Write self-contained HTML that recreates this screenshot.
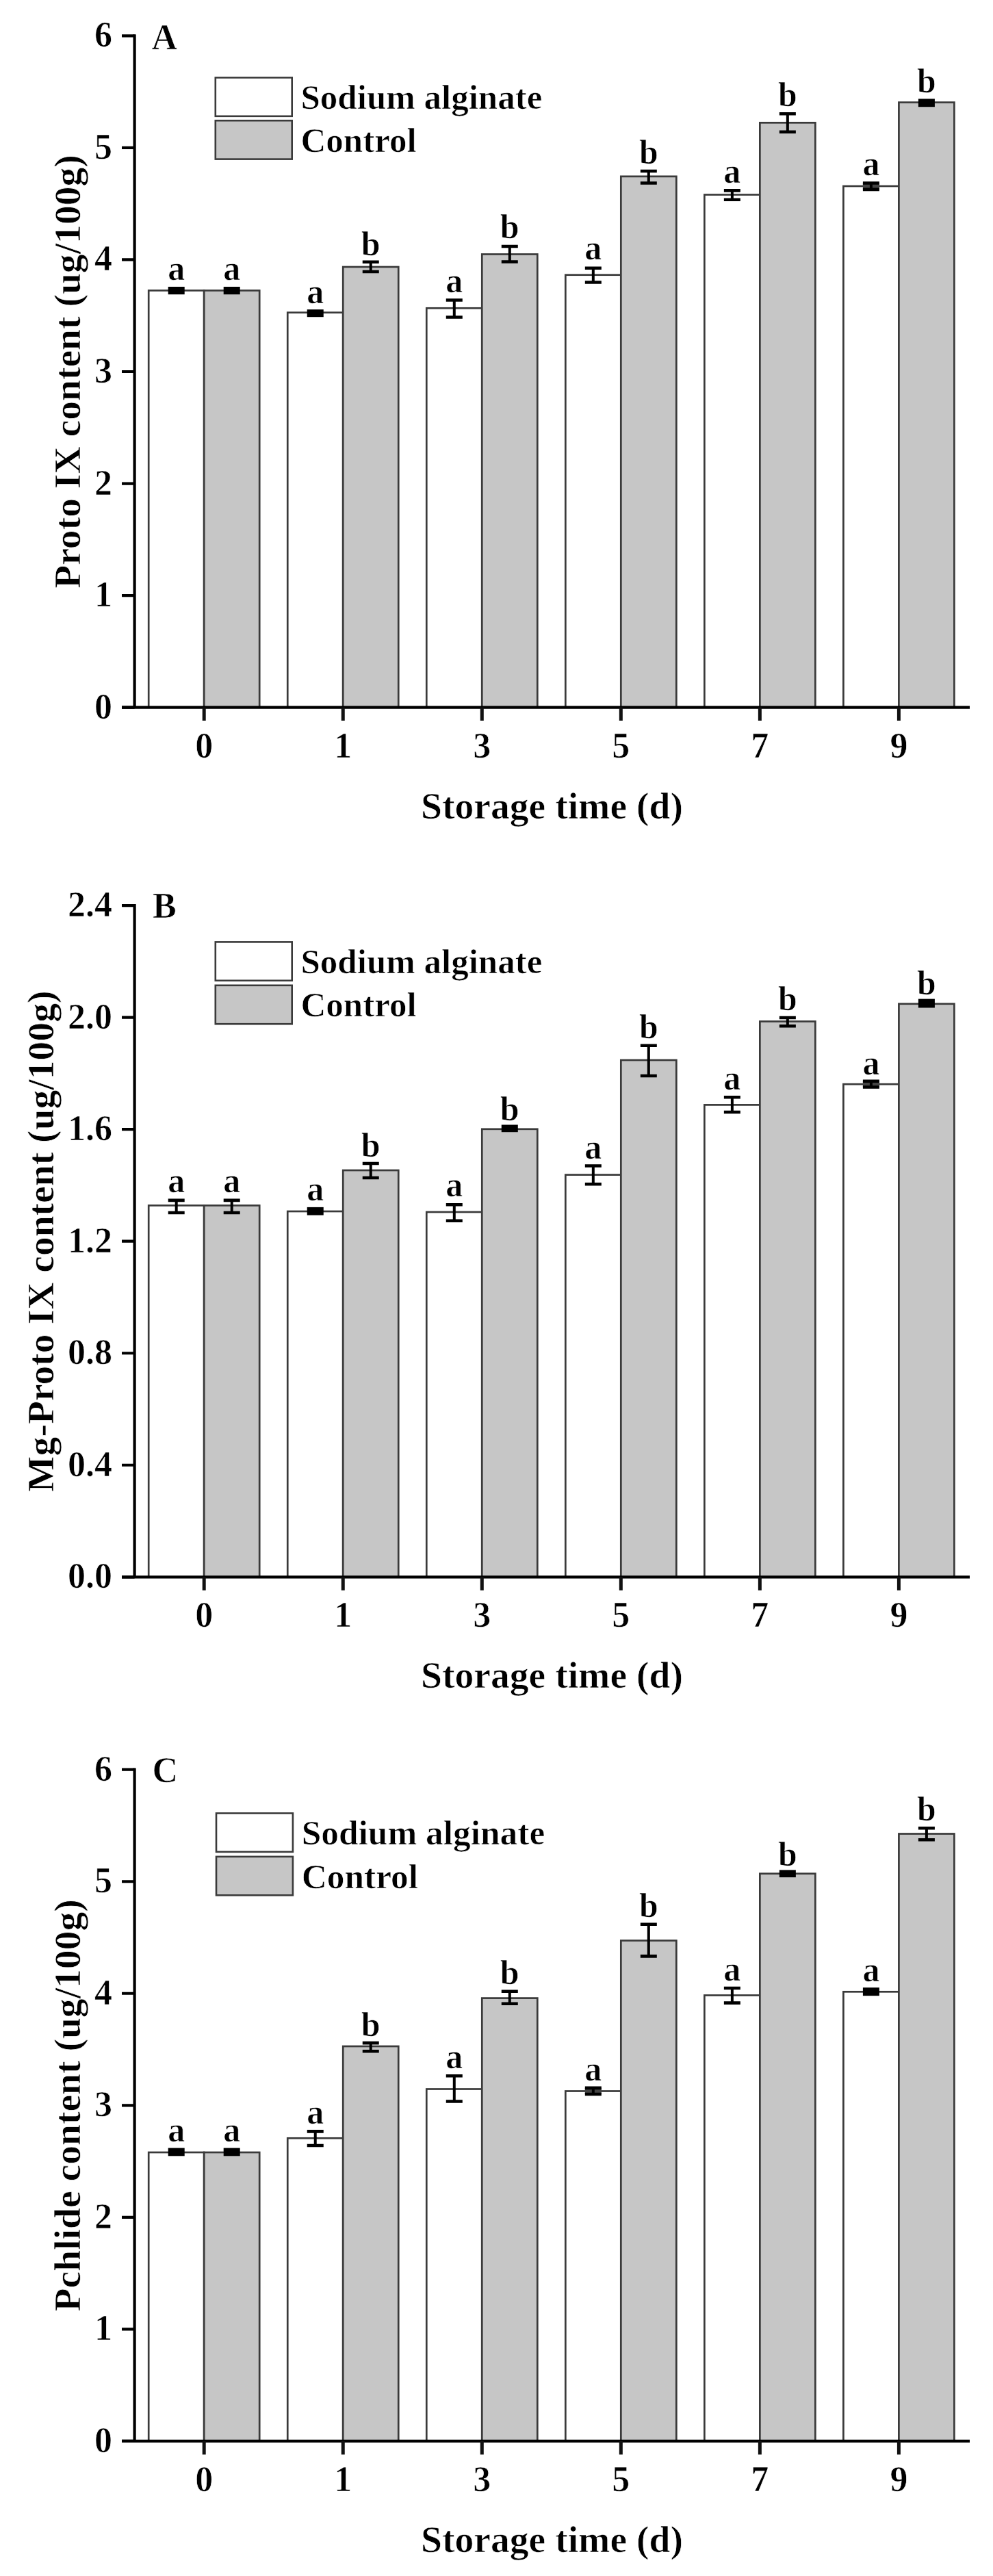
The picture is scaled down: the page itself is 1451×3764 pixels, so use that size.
<!DOCTYPE html>
<html><head><meta charset="utf-8"><title>Chart</title>
<style>html,body{margin:0;padding:0;background:#fff;}body{width:1451px;height:3764px;overflow:hidden;}svg{display:block;}</style>
</head><body>
<svg width="1451" height="3764" viewBox="0 0 1451 3764">
<rect x="0" y="0" width="1451" height="3764" fill="#ffffff"/>
<style>text{stroke:#fff;stroke-width:0.7px;paint-order:normal;}</style>
<g font-family="'Liberation Serif', 'Times New Roman', serif" font-weight="bold" fill="#000">
<rect x="217.2" y="424.5" width="81" height="609.1" fill="#ffffff" stroke="#3a3a3a" stroke-width="2.7"/>
<rect x="298.2" y="424.5" width="81" height="609.1" fill="#c6c6c6" stroke="#3a3a3a" stroke-width="2.7"/>
<rect x="245.7" y="419" width="24" height="11.2" fill="#000"/>
<text x="257.7" y="409.1" font-size="50" text-anchor="middle">a</text>
<rect x="326.7" y="419" width="24" height="11.2" fill="#000"/>
<text x="338.7" y="409.1" font-size="50" text-anchor="middle">a</text>
<rect x="420.24" y="456.7" width="81" height="576.9" fill="#ffffff" stroke="#3a3a3a" stroke-width="2.7"/>
<rect x="501.24" y="390" width="81" height="643.6" fill="#c6c6c6" stroke="#3a3a3a" stroke-width="2.7"/>
<rect x="448.74" y="452.2" width="24" height="11" fill="#000"/>
<text x="460.74" y="442.7" font-size="50" text-anchor="middle">a</text>
<path d="M541.74 382.7V397" stroke="#000" stroke-width="4.0" fill="none"/>
<path d="M529.74 382.7H553.74M529.74 397H553.74" stroke="#000" stroke-width="4.6" fill="none"/>
<text x="541.74" y="372.8" font-size="50" text-anchor="middle">b</text>
<rect x="623.28" y="450.3" width="81" height="583.3" fill="#ffffff" stroke="#3a3a3a" stroke-width="2.7"/>
<rect x="704.28" y="371.5" width="81" height="662.1" fill="#c6c6c6" stroke="#3a3a3a" stroke-width="2.7"/>
<path d="M663.78 438.5V463.5" stroke="#000" stroke-width="4.0" fill="none"/>
<path d="M651.78 438.5H675.78M651.78 463.5H675.78" stroke="#000" stroke-width="4.6" fill="none"/>
<text x="663.78" y="426.7" font-size="50" text-anchor="middle">a</text>
<path d="M744.78 360V382.5" stroke="#000" stroke-width="4.0" fill="none"/>
<path d="M732.78 360H756.78M732.78 382.5H756.78" stroke="#000" stroke-width="4.6" fill="none"/>
<text x="744.78" y="348.4" font-size="50" text-anchor="middle">b</text>
<rect x="826.32" y="401.7" width="81" height="631.9" fill="#ffffff" stroke="#3a3a3a" stroke-width="2.7"/>
<rect x="907.32" y="257.8" width="81" height="775.8" fill="#c6c6c6" stroke="#3a3a3a" stroke-width="2.7"/>
<path d="M866.82 391.7V412.5" stroke="#000" stroke-width="4.0" fill="none"/>
<path d="M854.82 391.7H878.82M854.82 412.5H878.82" stroke="#000" stroke-width="4.6" fill="none"/>
<text x="866.82" y="379.1" font-size="50" text-anchor="middle">a</text>
<path d="M947.82 250V267.5" stroke="#000" stroke-width="4.0" fill="none"/>
<path d="M935.82 250H959.82M935.82 267.5H959.82" stroke="#000" stroke-width="4.6" fill="none"/>
<text x="947.82" y="238.7" font-size="50" text-anchor="middle">b</text>
<rect x="1029.36" y="284.5" width="81" height="749.1" fill="#ffffff" stroke="#3a3a3a" stroke-width="2.7"/>
<rect x="1110.36" y="179.3" width="81" height="854.3" fill="#c6c6c6" stroke="#3a3a3a" stroke-width="2.7"/>
<path d="M1069.86 278.4V291.8" stroke="#000" stroke-width="4.0" fill="none"/>
<path d="M1057.86 278.4H1081.86M1057.86 291.8H1081.86" stroke="#000" stroke-width="4.6" fill="none"/>
<text x="1069.86" y="267.4" font-size="50" text-anchor="middle">a</text>
<path d="M1150.86 166.3V192.8" stroke="#000" stroke-width="4.0" fill="none"/>
<path d="M1138.86 166.3H1162.86M1138.86 192.8H1162.86" stroke="#000" stroke-width="4.6" fill="none"/>
<text x="1150.86" y="154.8" font-size="50" text-anchor="middle">b</text>
<rect x="1232.4" y="272" width="81" height="761.6" fill="#ffffff" stroke="#3a3a3a" stroke-width="2.7"/>
<rect x="1313.4" y="149.6" width="81" height="884" fill="#c6c6c6" stroke="#3a3a3a" stroke-width="2.7"/>
<rect x="1260.9" y="267.5" width="24" height="9.4" fill="#444"/>
<path d="M1272.9 267.5V276.9" stroke="#000" stroke-width="4.0" fill="none"/>
<path d="M1260.9 267.5H1284.9M1260.9 276.9H1284.9" stroke="#000" stroke-width="4.6" fill="none"/>
<text x="1272.9" y="255.5" font-size="50" text-anchor="middle">a</text>
<rect x="1341.9" y="144.4" width="24" height="11.8" fill="#000"/>
<text x="1353.9" y="135.2" font-size="50" text-anchor="middle">b</text>
<path d="M196.6 50.3V1033.6M178 1033.6H1417" stroke="#000" stroke-width="4.2" fill="none"/>
<text x="164" y="1049.6" font-size="52" text-anchor="end">0</text>
<text x="164" y="886.07" font-size="52" text-anchor="end">1</text>
<text x="164" y="722.53" font-size="52" text-anchor="end">2</text>
<text x="164" y="559" font-size="52" text-anchor="end">3</text>
<text x="164" y="395.47" font-size="52" text-anchor="end">4</text>
<text x="164" y="231.93" font-size="52" text-anchor="end">5</text>
<text x="164" y="68.4" font-size="52" text-anchor="end">6</text>
<text x="298.2" y="1106.5" font-size="52" text-anchor="middle">0</text>
<text x="501.24" y="1106.5" font-size="52" text-anchor="middle">1</text>
<text x="704.28" y="1106.5" font-size="52" text-anchor="middle">3</text>
<text x="907.32" y="1106.5" font-size="52" text-anchor="middle">5</text>
<text x="1110.36" y="1106.5" font-size="52" text-anchor="middle">7</text>
<text x="1313.4" y="1106.5" font-size="52" text-anchor="middle">9</text>
<path d="M178 1033.6H196.6M178 870.07H196.6M178 706.53H196.6M178 543H196.6M178 379.47H196.6M178 215.93H196.6M178 52.4H196.6" stroke="#000" stroke-width="4.2" fill="none"/>
<path d="M298.2 1033.6V1053.1M501.24 1033.6V1053.1M704.28 1033.6V1053.1M907.32 1033.6V1053.1M1110.36 1033.6V1053.1M1313.4 1033.6V1053.1" stroke="#111" stroke-width="5.0" fill="none"/>
<text x="806.5" y="1195.5" font-size="55.6" text-anchor="middle">Storage time (d)</text>
<text transform="translate(117.4 543) rotate(-90)" x="0" y="0" font-size="55.6" text-anchor="middle">Proto IX content (ug/100g)</text>
<text x="221.5" y="72" font-size="52">A</text>
<rect x="314.8" y="113.4" width="111.9" height="56.4" fill="#ffffff" stroke="#3a3a3a" stroke-width="2.6"/>
<rect x="314.8" y="176.2" width="111.9" height="56.4" fill="#c6c6c6" stroke="#3a3a3a" stroke-width="2.6"/>
<text x="439.5" y="158.7" font-size="51">Sodium alginate</text>
<text x="439.5" y="222" font-size="51">Control</text>
<rect x="217.2" y="1761.4" width="81" height="542.9" fill="#ffffff" stroke="#3a3a3a" stroke-width="2.7"/>
<rect x="298.2" y="1761.4" width="81" height="542.9" fill="#c6c6c6" stroke="#3a3a3a" stroke-width="2.7"/>
<path d="M257.7 1753.9V1772" stroke="#000" stroke-width="4.0" fill="none"/>
<path d="M245.7 1753.9H269.7M245.7 1772H269.7" stroke="#000" stroke-width="4.6" fill="none"/>
<text x="257.7" y="1742.1" font-size="50" text-anchor="middle">a</text>
<path d="M338.7 1753.9V1772" stroke="#000" stroke-width="4.0" fill="none"/>
<path d="M326.7 1753.9H350.7M326.7 1772H350.7" stroke="#000" stroke-width="4.6" fill="none"/>
<text x="338.7" y="1742.1" font-size="50" text-anchor="middle">a</text>
<rect x="420.24" y="1770" width="81" height="534.3" fill="#ffffff" stroke="#3a3a3a" stroke-width="2.7"/>
<rect x="501.24" y="1710" width="81" height="594.3" fill="#c6c6c6" stroke="#3a3a3a" stroke-width="2.7"/>
<rect x="448.74" y="1763.9" width="24" height="11.7" fill="#000"/>
<text x="460.74" y="1754.1" font-size="50" text-anchor="middle">a</text>
<path d="M541.74 1700V1721" stroke="#000" stroke-width="4.0" fill="none"/>
<path d="M529.74 1700H553.74M529.74 1721H553.74" stroke="#000" stroke-width="4.6" fill="none"/>
<text x="541.74" y="1689.6" font-size="50" text-anchor="middle">b</text>
<rect x="623.28" y="1771" width="81" height="533.3" fill="#ffffff" stroke="#3a3a3a" stroke-width="2.7"/>
<rect x="704.28" y="1649.8" width="81" height="654.5" fill="#c6c6c6" stroke="#3a3a3a" stroke-width="2.7"/>
<path d="M663.78 1760.2V1783.8" stroke="#000" stroke-width="4.0" fill="none"/>
<path d="M651.78 1760.2H675.78M651.78 1783.8H675.78" stroke="#000" stroke-width="4.6" fill="none"/>
<text x="663.78" y="1748" font-size="50" text-anchor="middle">a</text>
<rect x="732.78" y="1643.5" width="24" height="10.7" fill="#000"/>
<text x="744.78" y="1636.7" font-size="50" text-anchor="middle">b</text>
<rect x="826.32" y="1716.6" width="81" height="587.7" fill="#ffffff" stroke="#3a3a3a" stroke-width="2.7"/>
<rect x="907.32" y="1549" width="81" height="755.3" fill="#c6c6c6" stroke="#3a3a3a" stroke-width="2.7"/>
<path d="M866.82 1703.5V1730.2" stroke="#000" stroke-width="4.0" fill="none"/>
<path d="M854.82 1703.5H878.82M854.82 1730.2H878.82" stroke="#000" stroke-width="4.6" fill="none"/>
<text x="866.82" y="1692.9" font-size="50" text-anchor="middle">a</text>
<path d="M947.82 1527.7V1572" stroke="#000" stroke-width="4.0" fill="none"/>
<path d="M935.82 1527.7H959.82M935.82 1572H959.82" stroke="#000" stroke-width="4.6" fill="none"/>
<text x="947.82" y="1516.7" font-size="50" text-anchor="middle">b</text>
<rect x="1029.36" y="1614.4" width="81" height="689.9" fill="#ffffff" stroke="#3a3a3a" stroke-width="2.7"/>
<rect x="1110.36" y="1492.5" width="81" height="811.8" fill="#c6c6c6" stroke="#3a3a3a" stroke-width="2.7"/>
<path d="M1069.86 1603.3V1625" stroke="#000" stroke-width="4.0" fill="none"/>
<path d="M1057.86 1603.3H1081.86M1057.86 1625H1081.86" stroke="#000" stroke-width="4.6" fill="none"/>
<text x="1069.86" y="1591.6" font-size="50" text-anchor="middle">a</text>
<path d="M1150.86 1487V1499.3" stroke="#000" stroke-width="4.0" fill="none"/>
<path d="M1138.86 1487H1162.86M1138.86 1499.3H1162.86" stroke="#000" stroke-width="4.6" fill="none"/>
<text x="1150.86" y="1476.2" font-size="50" text-anchor="middle">b</text>
<rect x="1232.4" y="1584.2" width="81" height="720.1" fill="#ffffff" stroke="#3a3a3a" stroke-width="2.7"/>
<rect x="1313.4" y="1466.8" width="81" height="837.5" fill="#c6c6c6" stroke="#3a3a3a" stroke-width="2.7"/>
<rect x="1260.9" y="1579.7" width="24" height="8.8" fill="#444"/>
<path d="M1272.9 1579.7V1588.5" stroke="#000" stroke-width="4.0" fill="none"/>
<path d="M1260.9 1579.7H1284.9M1260.9 1588.5H1284.9" stroke="#000" stroke-width="4.6" fill="none"/>
<text x="1272.9" y="1570" font-size="50" text-anchor="middle">a</text>
<rect x="1341.9" y="1459.6" width="24" height="12.9" fill="#000"/>
<text x="1353.9" y="1452.6" font-size="50" text-anchor="middle">b</text>
<path d="M196.6 1321V2304.3M178 2304.3H1417" stroke="#000" stroke-width="4.2" fill="none"/>
<text x="164" y="2320.3" font-size="52" text-anchor="end">0.0</text>
<text x="164" y="2156.77" font-size="52" text-anchor="end">0.4</text>
<text x="164" y="1993.23" font-size="52" text-anchor="end">0.8</text>
<text x="164" y="1829.7" font-size="52" text-anchor="end">1.2</text>
<text x="164" y="1666.17" font-size="52" text-anchor="end">1.6</text>
<text x="164" y="1502.63" font-size="52" text-anchor="end">2.0</text>
<text x="164" y="1339.1" font-size="52" text-anchor="end">2.4</text>
<text x="298.2" y="2377.2" font-size="52" text-anchor="middle">0</text>
<text x="501.24" y="2377.2" font-size="52" text-anchor="middle">1</text>
<text x="704.28" y="2377.2" font-size="52" text-anchor="middle">3</text>
<text x="907.32" y="2377.2" font-size="52" text-anchor="middle">5</text>
<text x="1110.36" y="2377.2" font-size="52" text-anchor="middle">7</text>
<text x="1313.4" y="2377.2" font-size="52" text-anchor="middle">9</text>
<path d="M178 2304.3H196.6M178 2140.77H196.6M178 1977.23H196.6M178 1813.7H196.6M178 1650.17H196.6M178 1486.63H196.6M178 1323.1H196.6" stroke="#000" stroke-width="4.2" fill="none"/>
<path d="M298.2 2304.3V2323.8M501.24 2304.3V2323.8M704.28 2304.3V2323.8M907.32 2304.3V2323.8M1110.36 2304.3V2323.8M1313.4 2304.3V2323.8" stroke="#111" stroke-width="5.0" fill="none"/>
<text x="806.5" y="2466.2" font-size="55.6" text-anchor="middle">Storage time (d)</text>
<text transform="translate(78.4 1813.7) rotate(-90)" x="0" y="0" font-size="55.6" text-anchor="middle">Mg-Proto IX content (ug/100g)</text>
<text x="223" y="1341.3" font-size="52">B</text>
<rect x="314.8" y="1376.4" width="111.9" height="56.4" fill="#ffffff" stroke="#3a3a3a" stroke-width="2.6"/>
<rect x="314.8" y="1439.8" width="111.9" height="56.4" fill="#c6c6c6" stroke="#3a3a3a" stroke-width="2.6"/>
<text x="439.5" y="1421.7" font-size="51">Sodium alginate</text>
<text x="439.5" y="1485.2" font-size="51">Control</text>
<rect x="217.2" y="3145" width="81" height="421.9" fill="#ffffff" stroke="#3a3a3a" stroke-width="2.7"/>
<rect x="298.2" y="3145" width="81" height="421.9" fill="#c6c6c6" stroke="#3a3a3a" stroke-width="2.7"/>
<rect x="245.7" y="3138.6" width="24" height="11.7" fill="#000"/>
<text x="257.7" y="3129.4" font-size="50" text-anchor="middle">a</text>
<rect x="326.7" y="3138.6" width="24" height="11.7" fill="#000"/>
<text x="338.7" y="3129.4" font-size="50" text-anchor="middle">a</text>
<rect x="420.24" y="3124.3" width="81" height="442.6" fill="#ffffff" stroke="#3a3a3a" stroke-width="2.7"/>
<rect x="501.24" y="2990" width="81" height="576.9" fill="#c6c6c6" stroke="#3a3a3a" stroke-width="2.7"/>
<path d="M460.74 3114.4V3135" stroke="#000" stroke-width="4.0" fill="none"/>
<path d="M448.74 3114.4H472.74M448.74 3135H472.74" stroke="#000" stroke-width="4.6" fill="none"/>
<text x="460.74" y="3103.4" font-size="50" text-anchor="middle">a</text>
<path d="M541.74 2985.1V2997.2" stroke="#000" stroke-width="4.0" fill="none"/>
<path d="M529.74 2985.1H553.74M529.74 2997.2H553.74" stroke="#000" stroke-width="4.6" fill="none"/>
<text x="541.74" y="2974.6" font-size="50" text-anchor="middle">b</text>
<rect x="623.28" y="3052.5" width="81" height="514.4" fill="#ffffff" stroke="#3a3a3a" stroke-width="2.7"/>
<rect x="704.28" y="2919.6" width="81" height="647.3" fill="#c6c6c6" stroke="#3a3a3a" stroke-width="2.7"/>
<path d="M663.78 3033.2V3070.5" stroke="#000" stroke-width="4.0" fill="none"/>
<path d="M651.78 3033.2H675.78M651.78 3070.5H675.78" stroke="#000" stroke-width="4.6" fill="none"/>
<text x="663.78" y="3021.5" font-size="50" text-anchor="middle">a</text>
<path d="M744.78 2909.8V2927.7" stroke="#000" stroke-width="4.0" fill="none"/>
<path d="M732.78 2909.8H756.78M732.78 2927.7H756.78" stroke="#000" stroke-width="4.6" fill="none"/>
<text x="744.78" y="2898.7" font-size="50" text-anchor="middle">b</text>
<rect x="826.32" y="3055.5" width="81" height="511.4" fill="#ffffff" stroke="#3a3a3a" stroke-width="2.7"/>
<rect x="907.32" y="2835.5" width="81" height="731.4" fill="#c6c6c6" stroke="#3a3a3a" stroke-width="2.7"/>
<rect x="854.82" y="3050.9" width="24" height="9.1" fill="#444"/>
<path d="M866.82 3050.9V3060" stroke="#000" stroke-width="4.0" fill="none"/>
<path d="M854.82 3050.9H878.82M854.82 3060H878.82" stroke="#000" stroke-width="4.6" fill="none"/>
<text x="866.82" y="3039.8" font-size="50" text-anchor="middle">a</text>
<path d="M947.82 2811.8V2858.4" stroke="#000" stroke-width="4.0" fill="none"/>
<path d="M935.82 2811.8H959.82M935.82 2858.4H959.82" stroke="#000" stroke-width="4.6" fill="none"/>
<text x="947.82" y="2800.7" font-size="50" text-anchor="middle">b</text>
<rect x="1029.36" y="2915.5" width="81" height="651.4" fill="#ffffff" stroke="#3a3a3a" stroke-width="2.7"/>
<rect x="1110.36" y="2737.7" width="81" height="829.2" fill="#c6c6c6" stroke="#3a3a3a" stroke-width="2.7"/>
<path d="M1069.86 2905V2926.6" stroke="#000" stroke-width="4.0" fill="none"/>
<path d="M1057.86 2905H1081.86M1057.86 2926.6H1081.86" stroke="#000" stroke-width="4.6" fill="none"/>
<text x="1069.86" y="2894.4" font-size="50" text-anchor="middle">a</text>
<rect x="1138.86" y="2732.4" width="24" height="10.7" fill="#000"/>
<text x="1150.86" y="2725.6" font-size="50" text-anchor="middle">b</text>
<rect x="1232.4" y="2910.3" width="81" height="656.6" fill="#ffffff" stroke="#3a3a3a" stroke-width="2.7"/>
<rect x="1313.4" y="2679.5" width="81" height="887.4" fill="#c6c6c6" stroke="#3a3a3a" stroke-width="2.7"/>
<rect x="1260.9" y="2904.2" width="24" height="12" fill="#000"/>
<text x="1272.9" y="2895.2" font-size="50" text-anchor="middle">a</text>
<path d="M1353.9 2671.3V2688.3" stroke="#000" stroke-width="4.0" fill="none"/>
<path d="M1341.9 2671.3H1365.9M1341.9 2688.3H1365.9" stroke="#000" stroke-width="4.6" fill="none"/>
<text x="1353.9" y="2659.7" font-size="50" text-anchor="middle">b</text>
<path d="M196.6 2583.6V3566.9M178 3566.9H1417" stroke="#000" stroke-width="4.2" fill="none"/>
<text x="164" y="3582.9" font-size="52" text-anchor="end">0</text>
<text x="164" y="3419.37" font-size="52" text-anchor="end">1</text>
<text x="164" y="3255.83" font-size="52" text-anchor="end">2</text>
<text x="164" y="3092.3" font-size="52" text-anchor="end">3</text>
<text x="164" y="2928.77" font-size="52" text-anchor="end">4</text>
<text x="164" y="2765.23" font-size="52" text-anchor="end">5</text>
<text x="164" y="2601.7" font-size="52" text-anchor="end">6</text>
<text x="298.2" y="3639.8" font-size="52" text-anchor="middle">0</text>
<text x="501.24" y="3639.8" font-size="52" text-anchor="middle">1</text>
<text x="704.28" y="3639.8" font-size="52" text-anchor="middle">3</text>
<text x="907.32" y="3639.8" font-size="52" text-anchor="middle">5</text>
<text x="1110.36" y="3639.8" font-size="52" text-anchor="middle">7</text>
<text x="1313.4" y="3639.8" font-size="52" text-anchor="middle">9</text>
<path d="M178 3566.9H196.6M178 3403.37H196.6M178 3239.83H196.6M178 3076.3H196.6M178 2912.77H196.6M178 2749.23H196.6M178 2585.7H196.6" stroke="#000" stroke-width="4.2" fill="none"/>
<path d="M298.2 3566.9V3586.4M501.24 3566.9V3586.4M704.28 3566.9V3586.4M907.32 3566.9V3586.4M1110.36 3566.9V3586.4M1313.4 3566.9V3586.4" stroke="#111" stroke-width="5.0" fill="none"/>
<text x="806.5" y="3728.8" font-size="55.6" text-anchor="middle">Storage time (d)</text>
<text transform="translate(117.4 3076.3) rotate(-90)" x="0" y="0" font-size="55.6" text-anchor="middle">Pchlide content (ug/100g)</text>
<text x="222.5" y="2604.3" font-size="52">C</text>
<rect x="316" y="2649.5" width="111.9" height="56.4" fill="#ffffff" stroke="#3a3a3a" stroke-width="2.6"/>
<rect x="316" y="2712.9" width="111.9" height="56.4" fill="#c6c6c6" stroke="#3a3a3a" stroke-width="2.6"/>
<text x="440.7" y="2695.4" font-size="51.4">Sodium alginate</text>
<text x="440.7" y="2759.3" font-size="51.4">Control</text>
</g></svg>
</body></html>
